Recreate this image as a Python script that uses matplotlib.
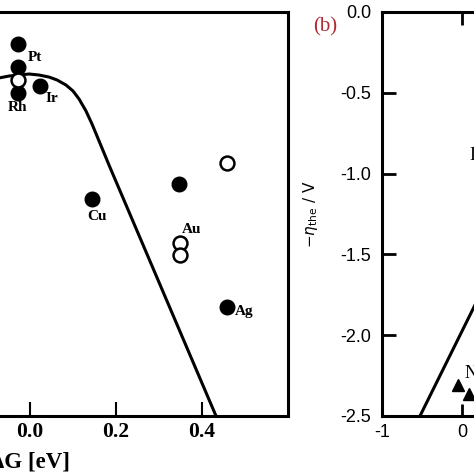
import matplotlib
matplotlib.use("Agg")
import matplotlib.pyplot as plt

plt.rcParams["axes.unicode_minus"] = False
plt.rcParams["mathtext.fontset"] = "dejavusans"

# panel (a): volcano, dG [eV] vs activity (arbitrary units)
filled_x = [-0.028, -0.028, -0.028, 0.023, 0.144, 0.347, 0.458]
filled_y = [-0.317, -0.545, -0.802, -0.733, -1.851, -1.703, -2.921]
open_x = [-0.028, 0.458, 0.349, 0.349]
open_y = [-0.673, -1.495, -2.287, -2.406]
curve_x = [-0.0837, -0.0721, -0.0488, -0.0256, -0.0023, 0.0209, 0.0442, 0.0628,
           0.0837, 0.1000, 0.1140, 0.1302, 0.1442, 0.1558, 0.1674, 0.1837,
           0.4326]
curve_y = [-0.663, -0.653, -0.634, -0.624, -0.614, -0.624, -0.644, -0.673,
           -0.723, -0.782, -0.861, -0.980, -1.109, -1.228, -1.347, -1.515,
           -4.0]
labels = ["Pt", "Rh", "Ir", "Cu", "Au", "Ag"]
label_x = [0.012, -0.028, 0.050, 0.156, 0.375, 0.498]
label_y = [-0.455, -0.950, -0.861, -2.020, -2.158, -2.970]
a_xticks = [0.0, 0.2, 0.4]

# panel (b): -eta_the vs x
b_line_x = [-0.525, 0.6]
b_line_y = [-2.5, -1.375]
tri_x = [-0.05, 0.0875]
tri_y = [-2.308, -2.364]
b_yticks = [0.0, -0.5, -1.0, -1.5, -2.0, -2.5]
b_xticks = [-1, 0, 1, 2]

fig = plt.figure(figsize=(4.74, 4.74), dpi=100)

serif = ["Liberation Serif", "DejaVu Serif"]
sans = ["Liberation Sans", "DejaVu Sans"]

# --- panel (a), mostly cut off on the left
ax1 = fig.add_axes([-228 / 474, 58 / 474, 516 / 474, 404 / 474])
ax1.plot(curve_x, curve_y, color="black", lw=2.2, zorder=2)
ax1.plot(filled_x, filled_y, "o", color="black", ms=10.5, zorder=3)
ax1.plot(open_x, open_y, "o", mfc="white", mec="black", mew=1.8, ms=10, zorder=4)
for name, lx, ly in zip(labels, label_x, label_y):
    ax1.text(lx, ly, name, family=serif, weight="bold", fontsize=11,
             ha="center", va="center", zorder=5)
ax1.set_xlim(-0.6, 0.6)
ax1.set_ylim(-4.0, 0.0)
ax1.set_xticks(a_xticks)
ax1.set_xticklabels([f"{t:.1f}" for t in a_xticks], family=serif,
                    weight="bold", fontsize=15.5)
ax1.set_yticks([])
ax1.tick_params(axis="x", direction="in", length=10, width=1.5, pad=4)
ax1.set_xlabel("ΔG [eV]", family=serif, weight="bold", fontsize=16.5, labelpad=7)
for sp in ax1.spines.values():
    sp.set_linewidth(2.2)

# --- panel (b), cut off on the right
ax2 = fig.add_axes([382 / 474, 58 / 474, 240 / 474, 404 / 474])
ax2.plot(b_line_x, b_line_y, color="black", lw=2.2)
ax2.plot(tri_x, tri_y, "^", color="black", ms=8)
ax2.text(0.0375, -2.234, "Ni", family=serif, fontsize=13, ha="left", va="center")
ax2.text(0.09, -0.885, "I", family=serif, fontsize=13, ha="left", va="center")
ax2.set_xlim(-1, 2)
ax2.set_ylim(-2.5, 0.0)
ax2.set_yticks(b_yticks)
ax2.set_yticklabels([f"{t:.1f}" for t in b_yticks], family=sans, fontsize=13)
ax2.set_xticks(b_xticks)
ax2.set_xticklabels([str(t) for t in b_xticks], family=sans, fontsize=13)
ax2.tick_params(axis="y", direction="in", length=10, width=2, pad=8)
ax2.tick_params(axis="x", direction="in", length=9, width=2, pad=6,
                top=True)
ax2.set_ylabel(r"$-\eta_{\mathrm{the}}$ / V", fontsize=11)
ax2.yaxis.set_label_coords(-62 / 240, 0.5)
for sp in ax2.spines.values():
    sp.set_linewidth(2.2)

fig.text(325 / 474, 1 - 27 / 474, "(b)", family=serif, fontsize=15,
         color="#b02a30", ha="center", va="center")

fig.savefig("out.png", dpi=100)
